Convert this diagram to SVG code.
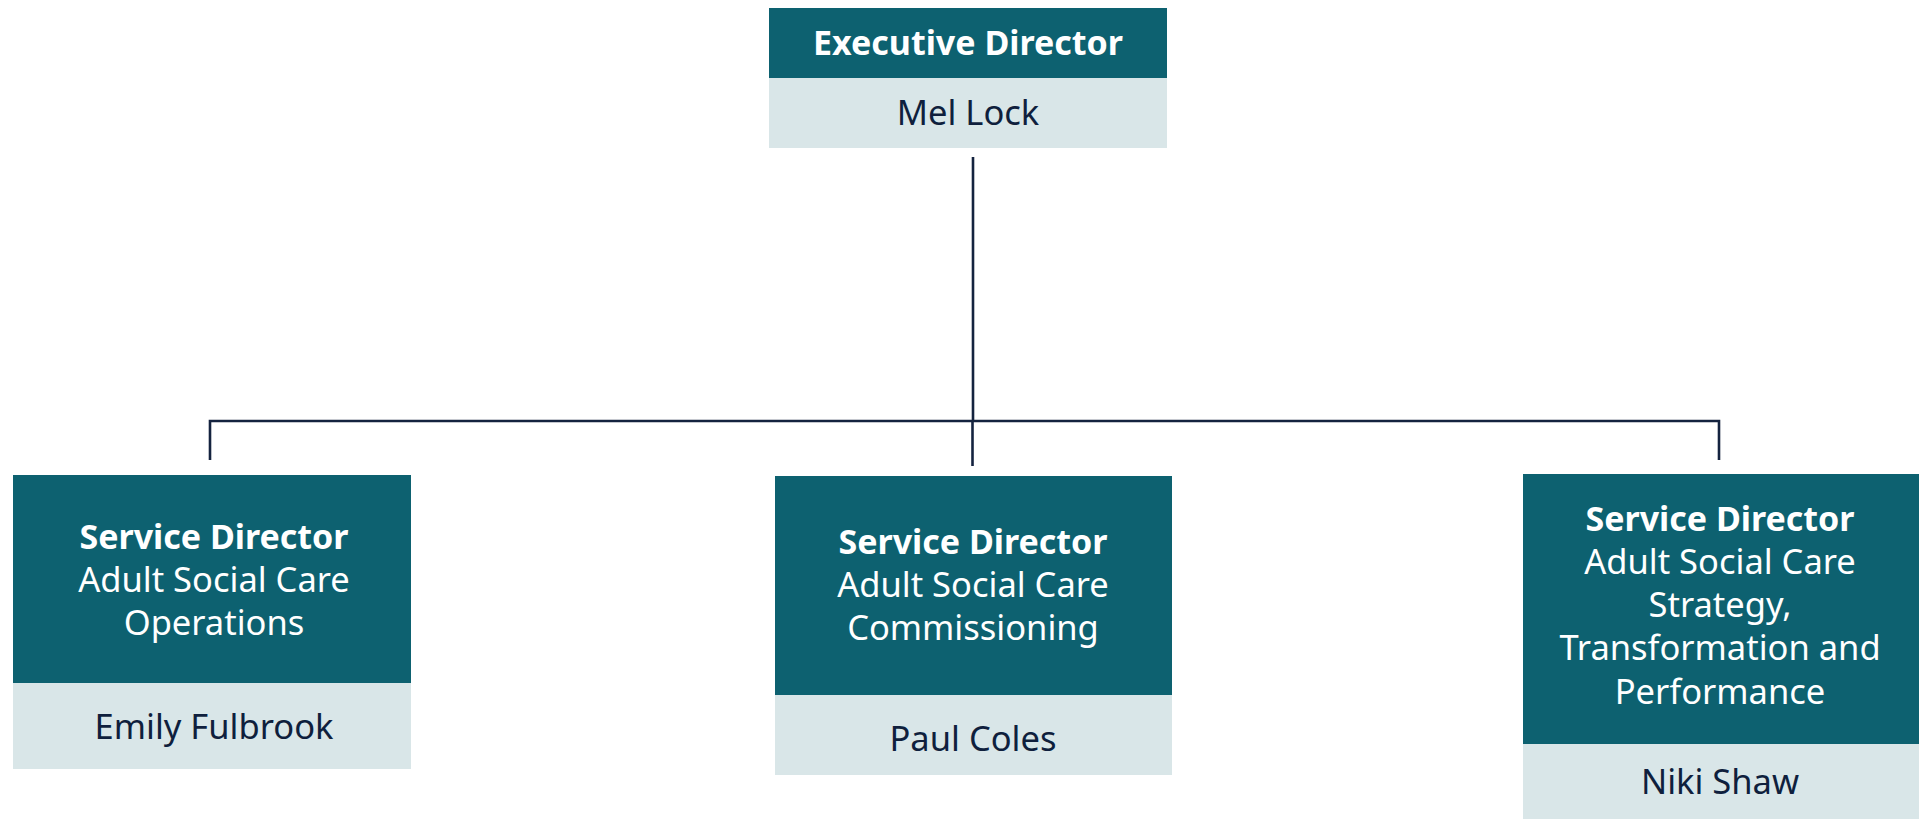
<svg xmlns="http://www.w3.org/2000/svg" width="1919" height="819" viewBox="0 0 1919 819">
<style>
.dark{fill:#0d6170}
.light{fill:#d9e6e8}
.t{font-family:"Noto Sans","Liberation Sans",sans-serif;font-size:34.5px;text-anchor:middle}
.w{fill:#ffffff}
.b{font-weight:bold;font-size:34px}
.n{fill:#0f1f3d}
.c{stroke:#14233f;stroke-width:2.6;fill:none}
</style>
<rect width="1919" height="819" fill="#ffffff"/>
<g id="connectors">
<path class="c" d="M973 157V421"/>
<path class="c" d="M210 460V421H1719V460" stroke-width="3"/>
<path class="c" d="M972.5 421V466"/>
</g>
<g id="exec">
<rect class="dark" x="769" y="8" width="398" height="70"/>
<rect class="light" x="769" y="78" width="398" height="70"/>
<text class="t w b" x="968" y="55">Executive Director</text>
<text class="t n" x="968" y="125">Mel Lock</text>
</g>
<g id="ops">
<rect class="dark" x="13" y="475" width="398" height="208"/>
<rect class="light" x="13" y="683" width="398" height="86"/>
<text class="t w b" x="214" y="549">Service Director</text>
<text class="t w" x="214" y="592">Adult Social Care</text>
<text class="t w" x="214" y="635">Operations</text>
<text class="t n" x="214" y="739">Emily Fulbrook</text>
</g>
<g id="comm">
<rect class="dark" x="775" y="476" width="397" height="219"/>
<rect class="light" x="775" y="695" width="397" height="80"/>
<text class="t w b" x="973" y="554">Service Director</text>
<text class="t w" x="973" y="597">Adult Social Care</text>
<text class="t w" x="973" y="640">Commissioning</text>
<text class="t n" x="973" y="751">Paul Coles</text>
</g>
<g id="strat">
<rect class="dark" x="1523" y="474" width="397" height="270"/>
<rect class="light" x="1523" y="744" width="397" height="76"/>
<text class="t w b" x="1720" y="531">Service Director</text>
<text class="t w" x="1720" y="574">Adult Social Care</text>
<text class="t w" x="1720" y="617">Strategy,</text>
<text class="t w" x="1720" y="660">Transformation and</text>
<text class="t w" x="1720" y="704">Performance</text>
<text class="t n" x="1720" y="794">Niki Shaw</text>
</g>
</svg>
